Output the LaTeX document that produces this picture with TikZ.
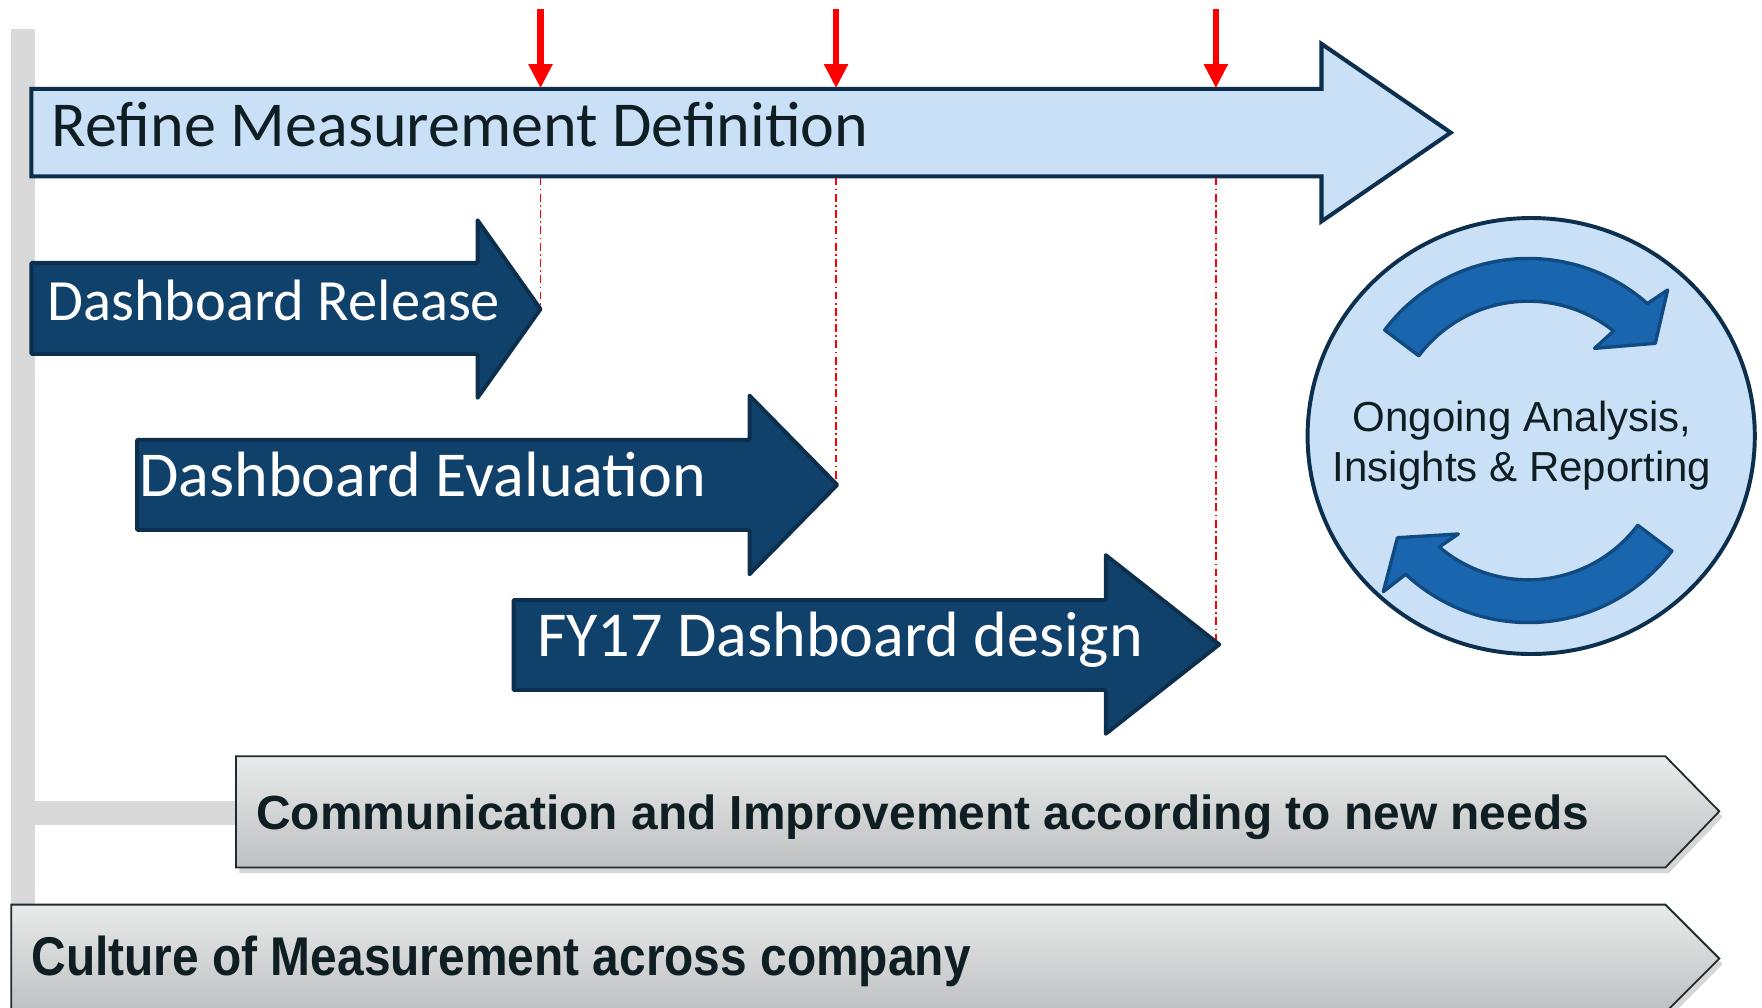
\documentclass[tikz,border=0pt]{standalone}
\usepackage{fontspec}
\setmainfont{Carlito}
\newfontfamily\arialfont{Liberation Sans}
\usetikzlibrary{calc}
\definecolor{lightblue}{HTML}{C9E0F6}
\definecolor{navyline}{HTML}{0C2F4D}
\definecolor{navyfill}{HTML}{10416B}
\definecolor{textdark}{HTML}{0E1E23}
\definecolor{cyclefill}{HTML}{1A66AE}
\definecolor{cycleline}{HTML}{0F4A80}
\definecolor{barGray}{HTML}{D9D9D9}
\definecolor{gtop}{HTML}{E9EAEA}
\definecolor{gbot}{HTML}{BEC0C1}
\definecolor{gline}{HTML}{1E2C2F}
\begin{document}
\begin{tikzpicture}[x=1pt,y=-1pt,
  lightarrow/.style={fill=lightblue, draw=navyline, line width=3.6pt, line join=miter},
  darkarrow/.style={fill=navyfill, draw=navyline, line width=3.5pt, line join=round},
  cyclearrow/.style={fill=cyclefill, draw=cycleline, line width=3pt, line join=round},
  chevronbox/.style={top color=gtop, bottom color=gbot, draw=gline, line width=1.6pt},
  chevronshadow/.style={fill=black, opacity=0.16},
  markershaft/.style={draw=red, line width=6pt},
  markerhead/.style={fill=red},
  guideline/.style={draw=red, line width=1.2pt, dash pattern=on 7pt off 3pt on 1.5pt off 3pt},
  lbldark/.style={inner sep=0pt, anchor=base west, text=textdark},
  lblwhite/.style={inner sep=0pt, anchor=base west, text=white},
  lblbold/.style={inner sep=0pt, anchor=base west, text=textdark, font=\arialfont\bfseries\fontsize{42.6}{48}\selectfont},
  lblcycle/.style={inner sep=0pt, anchor=base, text=textdark, font=\arialfont\fontsize{37.4}{44}\selectfont}
]
\useasboundingbox (0,0) rectangle (1568,897);
\clip (0,0) rectangle (1568,897);
\fill[white] (0,0) rectangle (1568,897);

% gray timeline bar and branch
\fill[barGray] (10,26) rectangle (31,810);
\fill[barGray] (31,713) rectangle (212,734);

% key coordinates
\coordinate (relTip) at (481,275);
\coordinate (evalTip) at (745,431.5);
\coordinate (fyTip) at (1085,573.5);
\coordinate (m1base) at (481,158);
\coordinate (m2base) at (744,158);
\coordinate (m3base) at (1082,158);

% refine arrow
\path[lightarrow] (28,79) -- (1176,79) -- (1176,39) -- (1291,118) -- (1176,197) -- (1176,157) -- (28,157) -- cycle;
\node[lbldark, font=\fontsize{57}{62}\selectfont] (refinetxt) at (46,130) {Refine Measurement Definition};

% guides
\draw[guideline] (m1base) -- (relTip);
\draw[guideline] (m2base) -- (744,430);
\draw[guideline] (m3base) -- (1082,571);

% red markers
\foreach \mx/\nm in {481/m1, 744/m2, 1082/m3}{
  \coordinate (\nm top) at (\mx,8);
  \coordinate (\nm tip) at (\mx,78);
  \draw[markershaft] (\nm top) -- (\mx,60);
  \fill[markerhead] (\mx-11,57) -- (\mx+11,57) -- (\nm tip) -- cycle;
}

% dark arrows
\path[darkarrow] (28,234) -- (425,234) -- (425,196) -- (relTip) -- (425,354) -- (425,315) -- (28,315) -- cycle;
\node[lblwhite, font=\fontsize{52}{57}\selectfont] (reltxt) at (42,285) {Dashboard Release};

\path[darkarrow] (122,391.5) -- (667,391.5) -- (667,352) -- (evalTip) -- (667,511) -- (667,471.5) -- (122,471.5) -- cycle;
\node[lblwhite, font=\fontsize{57}{62}\selectfont] (evaltxt) at (124,442) {Dashboard Evaluation};

\path[darkarrow] (457,534) -- (984,534) -- (984,494) -- (fyTip) -- (984,653) -- (984,614) -- (457,614) -- cycle;
\node[lblwhite, font=\fontsize{57}{62}\selectfont] (fytxt) at (478,584.5) {FY17 Dashboard design};

% cycle circle
\coordinate (cc) at (1362.6,388);
\draw[fill=lightblue, draw=navyline, line width=3.5pt] (cc) ellipse[x radius=199, y radius=194];
\coordinate (ctop) at (1360,390);
\coordinate (cbot) at (1360,394);
\path[cyclearrow] ($(ctop)+(-143:160)$) arc[start angle=-143, end angle=-48.5, radius=160]
  -- (1484,258) -- (1473,305.5) -- (1419,310) -- ($(ctop)+(-51.5:122)$)
  arc[start angle=-51.5, end angle=-143, radius=122] -- cycle;
\path[cyclearrow] ($(cbot)+(37:160)$) arc[start angle=37, end angle=133, radius=160]
  -- (1231,526.5) -- (1243.6,478.5) -- (1297.7,475.2) -- ($(cbot)+(130.5:122)$)
  arc[start angle=130.5, end angle=37, radius=122] -- cycle;
\node[lblcycle] (cyc1) at (1354.5,384) {Ongoing Analysis,};
\node[lblcycle] (cyc2) at (1354.5,428.6) {Insights \& Reporting};

% gray chevrons
\path[chevronshadow] (213,678) -- (1485,678) -- (1533,727) -- (1485,777) -- (213,777) -- cycle;
\path[chevronbox] (210,673) -- (1482,673) -- (1530,722) -- (1482,772) -- (210,772) -- cycle;
\node[lblbold] (commtxt) at (228,738) {Communication and Improvement according to new needs};

\path[chevronshadow] (13,810) -- (1485,810) -- (1533,858) -- (1485,906) -- (13,906) -- cycle;
\path[chevronbox] (10,805) -- (1482,805) -- (1530,853) -- (1482,901) -- (10,901) -- cycle;
\node[lblbold] (culttxt) at (28,868.5) {\scalebox{1}[1.14]{Culture of Measurement across company}};
\end{tikzpicture}
\end{document}
